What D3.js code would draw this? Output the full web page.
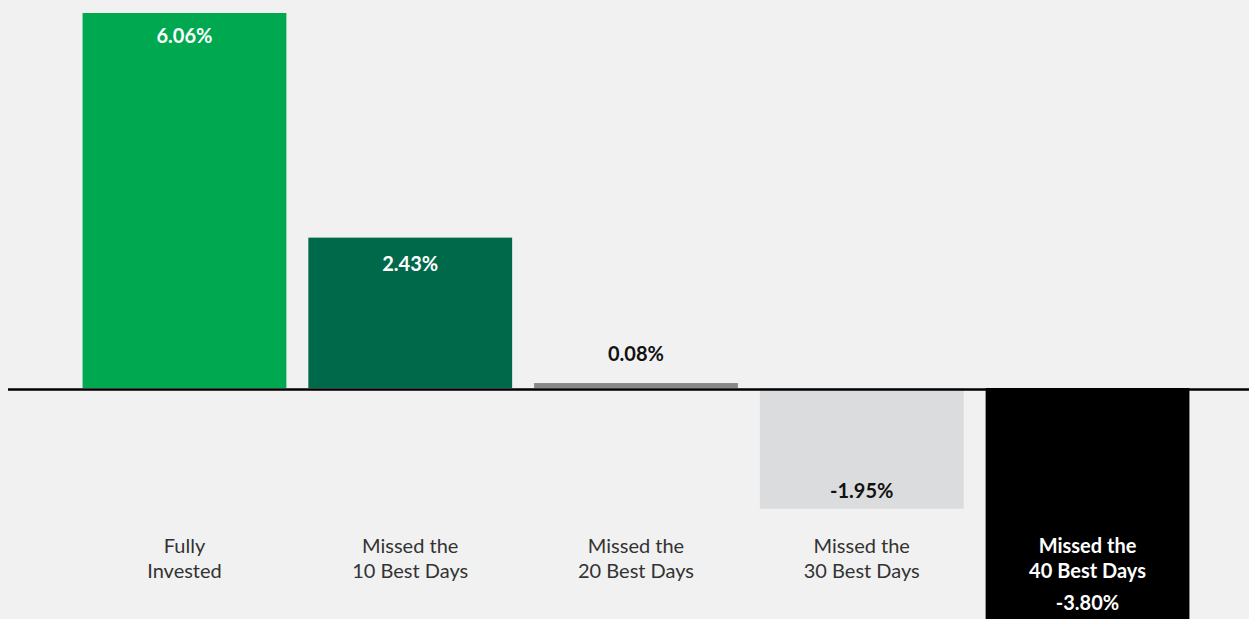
<html>
<head>
<script src="https://d3js.org/d3.v7.min.js"></script>
<style>
  body { margin: 0; background: #f1f1f1; }
  text { font-family: Lato, "Open Sans", sans-serif; }
</style>
</head>
<body>
<script>
var categories = ["Fully|Invested", "Missed the|10 Best Days", "Missed the|20 Best Days", "Missed the|30 Best Days", "Missed the|40 Best Days"];
var values = [6.06, 2.43, 0.08, -1.95, -3.80];
var labels = ["6.06%", "2.43%", "0.08%", "-1.95%", "-3.80%"];
var colors = ["#00a94f", "#00694a", "#888888", "#dbdcdd", "#000000"];

var w = 1249, h = 619;
var zeroY = 388;

var svg = d3.select("body").append("svg").attr("width", w).attr("height", h);
svg.append("rect").attr("width", w).attr("height", h).attr("fill", "#f1f1f1");

var x = d3.scaleBand().domain(d3.range(categories.length)).range([60, 1212]).paddingInner(0.0973).paddingOuter(0.1);
var y = d3.scaleLinear().domain([0, 6.06]).range([zeroY, 13]);

svg.selectAll(".bar").data(values).enter().append("rect")
  .attr("class", "bar")
  .attr("x", function(d, i){ return x(i); })
  .attr("width", x.bandwidth())
  .attr("y", function(d){ return d >= 0 ? y(d) : zeroY; })
  .attr("height", function(d){ return Math.abs(y(d) - zeroY); })
  .attr("fill", function(d, i){ return colors[i]; });

// baseline
svg.append("line").attr("x1", 8).attr("x2", w).attr("y1", zeroY + 1.5).attr("y2", zeroY + 1.5)
  .attr("stroke", "#000").attr("stroke-width", 2.5);

// value labels
var labelY = [43, 271, 361, 498, 610];
var labelColor = ["#fff", "#fff", "#111", "#111", "#fff"];
svg.selectAll(".val").data(labels).enter().append("text")
  .attr("class", "val")
  .attr("x", function(d, i){ return x(i) + x.bandwidth() / 2; })
  .attr("y", function(d, i){ return labelY[i]; })
  .attr("text-anchor", "middle")
  .attr("font-size", "20px")
  .attr("font-weight", "bold")
  .attr("fill", function(d, i){ return labelColor[i]; })
  .text(function(d){ return d; });

// category labels
var cat = svg.selectAll(".cat").data(categories).enter().append("text")
  .attr("class", "cat")
  .attr("text-anchor", "middle")
  .attr("font-size", "20px")
  .attr("font-weight", function(d, i){ return i === 4 ? "bold" : "normal"; })
  .attr("fill", function(d, i){ return i === 4 ? "#fff" : "#333"; });
cat.each(function(d, i){
  var t = d3.select(this);
  d.split("|").forEach(function(line, k){
    t.append("tspan")
      .attr("x", x(i) + x.bandwidth() / 2)
      .attr("y", 553 + k * 25)
      .text(line);
  });
});
</script>
</body>
</html>
